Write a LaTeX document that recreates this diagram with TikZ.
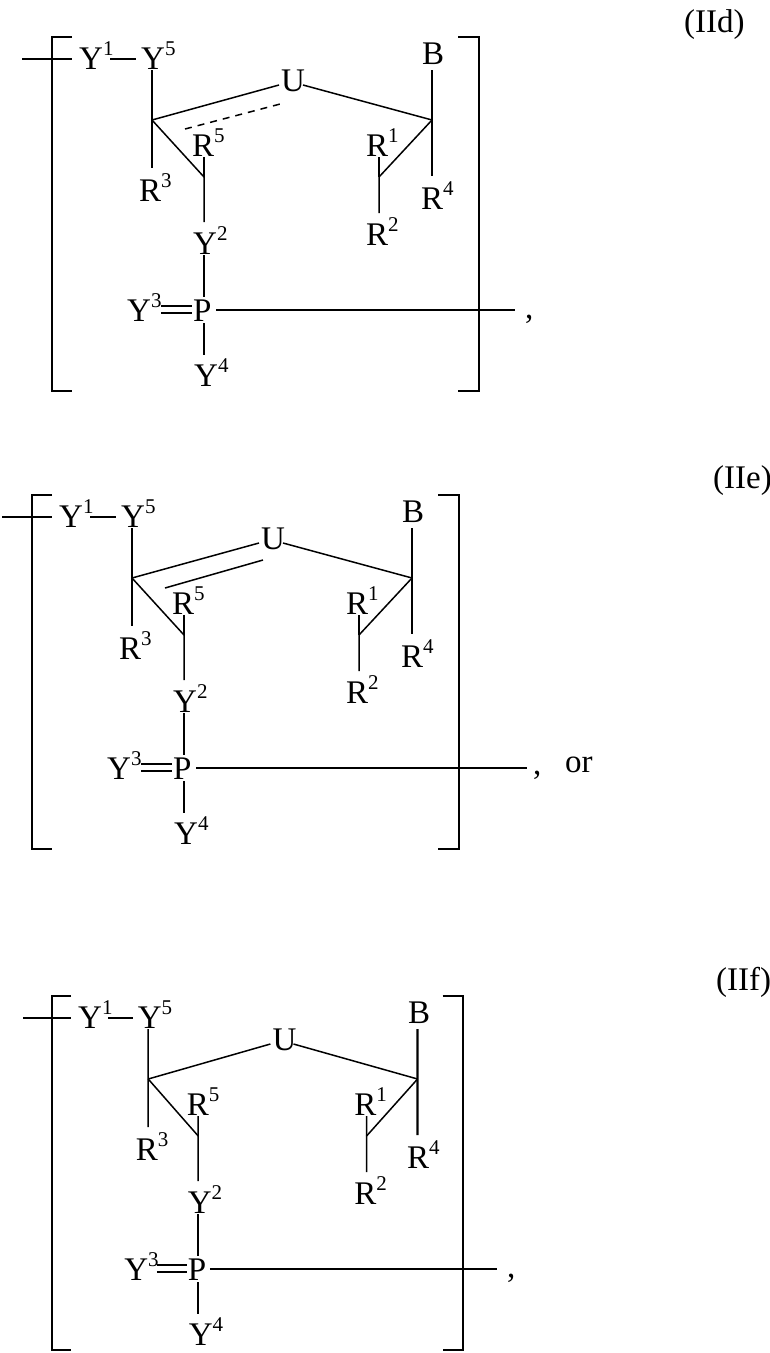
\documentclass[tikz,border=0pt]{standalone}
\usepackage{fontspec}
\setmainfont{Liberation Serif}
\newcommand\sps[1]{\raisebox{0.42em}{\fontsize{21}{21}\selectfont #1}}
\tikzset{
  lbl/.style={anchor=base west,inner sep=0pt,font=\fontsize{33}{33}\selectfont},
  bond/.style={line width=1.5pt},
  hbond/.style={line width=2.3pt},
}
% #1 prefix, #2 extra bond code, #3 end of P line
\newcommand\molecule[3]{%
  \node[lbl] (#1Y1) at (79,69) {Y\sps{1}};
  \node[lbl] (#1Y5) at (141,69) {Y\sps{5}};
  \node[lbl] (#1U) at (281,91) {U};
  \node[lbl] (#1B) at (422,64) {B};
  \node[lbl] (#1R5) at (192,156) {R\sps{5}};
  \node[lbl] (#1R3) at (139,201) {R\sps{3}};
  \node[lbl] (#1R1) at (366,156) {R\sps{1}};
  \node[lbl] (#1R4) at (421,209) {R\sps{4}};
  \node[lbl] (#1R2) at (366,245) {R\sps{2}};
  \node[lbl] (#1Y2) at (193,254) {Y\sps{2}};
  \node[lbl] (#1Y3) at (127,321) {Y\sps{3}};
  \node[lbl] (#1P) at (193,321) {P};
  \node[lbl] (#1Y4) at (194,386) {Y\sps{4}};
  \coordinate (#1C1) at (152,120);
  \coordinate (#1C2) at (204,177);
  \coordinate (#1C4) at (432,120);
  \coordinate (#1C3) at (379,177);
  \coordinate (#1E) at (#3,310);
  \draw[hbond] (22,59) -- (72,59);
  \draw[bond] (72,37) -- (52,37) -- (52,391) -- (72,391);
  \draw[bond] (458,37) -- (479,37) -- (479,391) -- (458,391);
  \draw[hbond] (110,59) -- (136,59);
  \draw[bond] (152,70) -- (#1C1) -- (152,168);
  \draw[bond] (#1C1) -- (279,85);
  \draw[bond] (#1C1) -- (#1C2) -- (204,222);
  \draw[bond] (#1C2) -- (204,157);
  \draw[bond] (204,255) -- (204,297);
  \draw[bond] (161,306) -- (192,306) (161,313) -- (192,313);
  \draw[bond] (216,310) -- (#1E);
  \draw[bond] (204,323) -- (204,355);
  \draw[bond] (303,85) -- (#1C4);
  \draw[hbond] (432,70) -- (#1C4) -- (432,176);
  \draw[bond] (#1C4) -- (#1C3) -- (379,213);
  \draw[bond] (#1C3) -- (379,157);
  #2
}
\begin{document}
\begin{tikzpicture}[x=1pt,y=-1pt]
\useasboundingbox (0,0) rectangle (770,1353);
\begin{scope}
  \molecule{a}{\draw[bond,dash pattern=on 7pt off 6pt] (185,129) -- (284,103);}{515}
  \node[lbl] (acomma) at (525,318) {,};
\end{scope}
\node[lbl] (labd) at (684,32) {(IId)};
\begin{scope}[shift={(-20,458)}]
  \molecule{b}{\draw[bond] (185,130) -- (283,102);}{547}
  \node[lbl] (bcomma) at (553,316) {,};
  \node[lbl] (bor) at (585,314) {or};
\end{scope}
\node[lbl] (labe) at (713,488) {(IIe)};
\begin{scope}[shift={(52,959)},xscale=0.962,shift={(-52,0)}]
  \molecule{c}{}{515}
  \node[lbl] (ccomma) at (525,318) {,};
\end{scope}
\node[lbl] (labf) at (716,990) {(IIf)};
\end{tikzpicture}
\end{document}
